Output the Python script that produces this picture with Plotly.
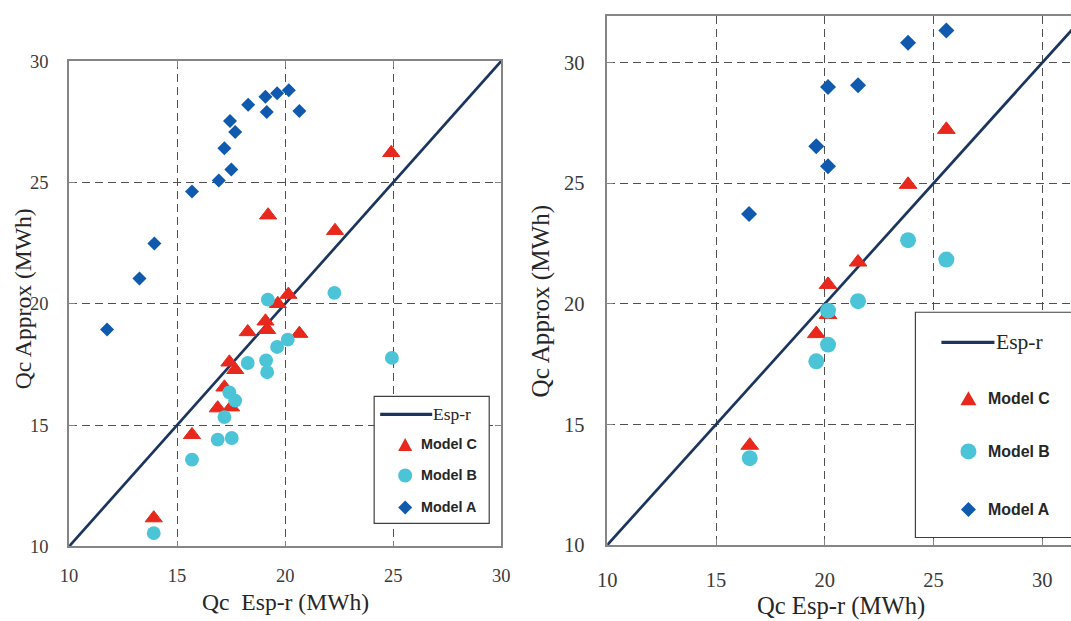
import plotly.graph_objects as go

# Empirical mapping between figure pixels and the photographed picture
# (picture = offset + scale * figure pixel), measured from earlier renders.
SX, SY = 0.982, 0.966
OX, OY = 9.0, 9.0
W, H = 1082, 634
K = (SX + SY) / 2  # size compensation for fonts / markers

# ---------------- data ----------------
# Left panel
left_a_x = [11.76, 13.26, 13.95, 15.69, 16.93, 17.51, 17.19, 17.69, 17.45, 18.29, 19.15, 19.09, 19.63, 20.17, 20.66]
left_a_y = [18.94, 21.04, 22.48, 24.63, 25.08, 25.53, 26.41, 27.08, 27.53, 28.20, 27.90, 28.53, 28.67, 28.80, 27.94]

left_b_x = [13.92, 15.69, 16.88, 17.53, 17.19, 17.42, 17.69, 18.27, 19.12, 19.17, 19.63, 20.12, 19.20, 22.28, 24.94]
left_b_y = [10.55, 13.58, 14.40, 14.47, 15.33, 16.35, 16.01, 17.56, 17.67, 17.18, 18.22, 18.52, 20.17, 20.45, 17.77]

left_c_x = [13.92, 15.69, 16.88, 17.50, 17.19, 17.42, 17.69, 18.27, 19.09, 19.17, 19.66, 20.15, 20.66, 19.21, 22.31, 24.91]
left_c_y = [11.17, 14.60, 15.70, 15.74, 16.56, 17.59, 17.28, 18.84, 19.28, 18.93, 20.00, 20.38, 18.77, 23.65, 23.01, 26.22]

left_line = [10, 30]

# Right panel
right_a_x = [16.52, 19.61, 20.15, 20.15, 21.53, 23.83, 25.59]
right_a_y = [23.73, 26.54, 25.71, 28.99, 29.07, 30.83, 31.34]

right_b_x = [16.55, 19.61, 20.15, 20.15, 21.53, 23.83, 25.59]
right_b_y = [13.60, 17.62, 18.31, 19.72, 20.11, 22.64, 21.84]

right_c_x = [16.55, 19.61, 20.15, 20.15, 21.53, 23.83, 25.59]
right_c_y = [14.13, 18.76, 19.55, 20.80, 21.73, 24.95, 27.23]

right_line = [10, 35]

ticks = [10, 15, 20, 25, 30]
series_names = ["Esp-r", "Model C", "Model B", "Model A"]

# ---------------- styles ----------------
NAVY = "#1b355f"
RED = "#e8281c"
CYAN = "#4cc4d8"
BLUE = "#0f5aae"
GRID = "#505050"
AXIS = "#858585"
TXT = "#262626"
SERIF = "Liberation Serif, Times New Roman, serif"
SANS = "Liberation Sans, Arial, sans-serif"


def fs(v):
    return round(v / K, 2)


def px(x):
    return ((x - OX) / SX) / W


def py(y):
    return 1 - ((y - OY) / SY) / H


fig = go.Figure()


def add_panel(xa, ya, line_vals, ax_, ay_, bx, by, cx, cy, msz):
    fig.add_trace(go.Scatter(x=line_vals, y=line_vals, mode="lines", name=series_names[0],
                             line=dict(color=NAVY, width=2.7), xaxis=xa, yaxis=ya, showlegend=False))
    fig.add_trace(go.Scatter(x=cx, y=cy, mode="markers", name=series_names[1],
                             marker=dict(symbol="triangle-up", size=fs(msz[0]), color=RED,
                                         line=dict(color=RED, width=1)),
                             xaxis=xa, yaxis=ya, showlegend=False, cliponaxis=False))
    fig.add_trace(go.Scatter(x=bx, y=by, mode="markers", name=series_names[2],
                             marker=dict(symbol="circle", size=fs(msz[1]), color=CYAN),
                             xaxis=xa, yaxis=ya, showlegend=False, cliponaxis=False))
    fig.add_trace(go.Scatter(x=ax_, y=ay_, mode="markers", name=series_names[3],
                             marker=dict(symbol="diamond", size=fs(msz[2]), color=BLUE),
                             xaxis=xa, yaxis=ya, showlegend=False, cliponaxis=False))


add_panel("x", "y", left_line, left_a_x, left_a_y, left_b_x, left_b_y, left_c_x, left_c_y, (14.5, 13.5, 10.5))
add_panel("x2", "y2", right_line, right_a_x, right_a_y, right_b_x, right_b_y, right_c_x, right_c_y, (15, 15.5, 12))

common = dict(showgrid=True, gridcolor=GRID, gridwidth=1, griddash="8px,5px",
              showline=True, linecolor=AXIS, linewidth=1.5,
              ticks="inside", ticklen=6, tickcolor=AXIS, tickwidth=1,
              zeroline=False, tickvals=ticks)

# right panel x axis runs to the picture's right edge (1071 px)
x2_max = 10 + (1071 - 606) / 21.74
fig.update_layout(
    width=W, height=H, autosize=False,
    margin=dict(l=0, r=0, t=0, b=0),
    paper_bgcolor="white", plot_bgcolor="white",
    showlegend=False,
    xaxis=dict(domain=[px(68), px(500)], range=[10, 30], anchor="y", mirror="ticks",
               tickfont=dict(family=SERIF, size=fs(18), color="#3a3a3a"), ticklabelstandoff=12, **common),
    yaxis=dict(domain=[py(545), py(60)], range=[10, 30], anchor="x", mirror="ticks",
               tickfont=dict(family=SERIF, size=fs(18), color="#3a3a3a"), ticklabelstandoff=15, **common),
    xaxis2=dict(domain=[px(606), min(1.0, px(1071))], range=[10, x2_max], anchor="y2", mirror=True,
                tickfont=dict(family=SERIF, size=fs(20), color="#3a3a3a"), ticklabelstandoff=16, **common),
    yaxis2=dict(domain=[py(543.5), py(15)], range=[10, 10 + 528.5 / 24.09], anchor="x2", mirror=False,
                tickfont=dict(family=SERIF, size=fs(20), color="#3a3a3a"), ticklabelstandoff=17, **common),
)

# ---------------- axis titles ----------------
ann = []
ann.append(dict(text="Qc\u00a0 Esp-r (MWh)", x=px(284), y=py(600), xref="paper", yref="paper",
                showarrow=False, xanchor="center", yanchor="middle",
                font=dict(family=SERIF, size=fs(23), color=TXT)))
ann.append(dict(text="Qc Approx (MWh)", x=px(22), y=py(298), xref="paper", yref="paper",
                showarrow=False, xanchor="center", yanchor="middle", textangle=-90,
                font=dict(family=SERIF, size=fs(23), color=TXT)))
ann.append(dict(text="Qc Esp-r (MWh)", x=px(840), y=py(604), xref="paper", yref="paper",
                showarrow=False, xanchor="center", yanchor="middle",
                font=dict(family=SERIF, size=fs(24), color=TXT)))
ann.append(dict(text="Qc Approx (MWh)", x=px(540), y=py(300), xref="paper", yref="paper",
                showarrow=False, xanchor="center", yanchor="middle", textangle=-90,
                font=dict(family=SERIF, size=fs(24.5), color=TXT)))

# ---------------- legends (drawn by hand) ----------------
shapes = []


def legend(box, line_seg, line_y, esp_x, esp_size, mk_x, rows, txt_x, txt_size, mk):
    x0, x1, y0, y1 = box
    shapes.append(dict(type="rect", xref="paper", yref="paper", x0=px(x0), x1=px(x1), y0=py(y1), y1=py(y0),
                       line=dict(color="#404040", width=1.2), fillcolor="white", layer="above"))
    shapes.append(dict(type="line", xref="paper", yref="paper", x0=px(line_seg[0]), x1=px(line_seg[1]),
                       y0=py(line_y), y1=py(line_y), line=dict(color=NAVY, width=3.2), layer="above"))
    ann.append(dict(text=series_names[0], x=px(esp_x), y=py(line_y), xref="paper", yref="paper",
                    showarrow=False, xanchor="left", yanchor="middle",
                    font=dict(family=SERIF, size=fs(esp_size), color=TXT)))
    tw, th, cd, dw = mk
    cy = rows[0]
    shapes.append(dict(type="path", xref="paper", yref="paper",
                       path=f"M {px(mk_x - tw / 2)},{py(cy + th / 2)} L {px(mk_x + tw / 2)},{py(cy + th / 2)} "
                            f"L {px(mk_x)},{py(cy - th / 2)} Z",
                       fillcolor=RED, line=dict(width=0), layer="above"))
    cy = rows[1]
    shapes.append(dict(type="circle", xref="paper", yref="paper",
                       x0=px(mk_x - cd / 2), x1=px(mk_x + cd / 2), y0=py(cy + cd / 2), y1=py(cy - cd / 2),
                       fillcolor=CYAN, line=dict(width=0), layer="above"))
    cy = rows[2]
    shapes.append(dict(type="path", xref="paper", yref="paper",
                       path=f"M {px(mk_x - dw / 2)},{py(cy)} L {px(mk_x)},{py(cy - dw / 2)} "
                            f"L {px(mk_x + dw / 2)},{py(cy)} L {px(mk_x)},{py(cy + dw / 2)} Z",
                       fillcolor=BLUE, line=dict(width=0), layer="above"))
    for name, cy in zip(series_names[1:], rows):
        ann.append(dict(text=f"<b>{name}</b>", x=px(txt_x), y=py(cy), xref="paper", yref="paper",
                        showarrow=False, xanchor="left", yanchor="middle",
                        font=dict(family=SANS, size=fs(txt_size), color=TXT)))


legend((373, 488, 395, 522), (379, 431), 413, 430, 17, 404, (443, 474, 506), 418, 14, (14, 13, 14, 14))
legend((914, 1095, 311, 536), (940, 993), 341, 993, 21, 967, (397, 450, 508), 985, 15.5, (16, 14, 16, 15))

fig.update_layout(annotations=ann, shapes=shapes)

fig.write_html("out.html")
